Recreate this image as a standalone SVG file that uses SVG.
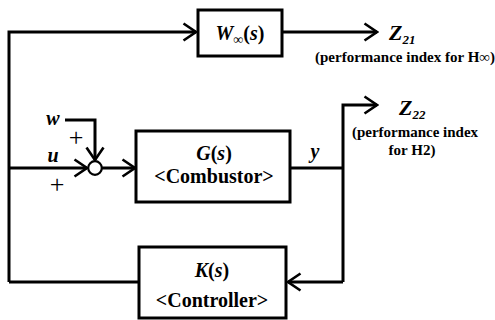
<svg xmlns="http://www.w3.org/2000/svg" width="495" height="320" viewBox="0 0 495 320">
<defs>
<marker id="arr" viewBox="0 0 16 20" refX="14" refY="10" markerWidth="16" markerHeight="20" markerUnits="userSpaceOnUse" orient="auto">
<path d="M1.5,1.5 L14,10 L1.5,18.5" fill="none" stroke="#000" stroke-width="2.6"/>
</marker>
</defs>
<style>
.box{fill:#fff;stroke:#000;stroke-width:3}
.ln{fill:none;stroke:#000;stroke-width:3}
.t{font-family:'Liberation Serif','Times New Roman','DejaVu Serif',serif;font-weight:bold;fill:#000}
.big{font-size:20px}
.it{font-style:italic}
.note{font-size:15px}
.pl{font-family:'Liberation Serif','DejaVu Serif',serif;font-size:26px;font-weight:normal;fill:#000}
</style>
<rect width="495" height="320" fill="#fff"/>
<g id="connectors">
<polyline class="ln" points="9,282 9,32 196,32" marker-end="url(#arr)"/>
<line class="ln" x1="282" y1="32" x2="377" y2="32" marker-end="url(#arr)"/>
<polyline class="ln" points="290,168 343,168"/>
<polyline class="ln" points="343,282 343,105 377,105" marker-end="url(#arr)"/>
<polyline class="ln" points="343,282 288,282" marker-end="url(#arr)"/>
<line class="ln" x1="139" y1="282" x2="9" y2="282"/>
<polyline class="ln" points="65,120 95,120 95,160" marker-end="url(#arr)"/>
<line class="ln" x1="9" y1="168" x2="87" y2="168" marker-end="url(#arr)"/>
<line class="ln" x1="102" y1="168" x2="135" y2="168" marker-end="url(#arr)"/>
</g>
<g id="sum">
<circle cx="95" cy="168" r="6.8" fill="#fff" stroke="#000" stroke-width="2.2"/>
<text x="53" y="125" class="t big it" text-anchor="middle">w</text>
<text x="53" y="162" class="t big it" text-anchor="middle">u</text>
<text x="76" y="146" class="pl" text-anchor="middle">+</text>
<text x="57" y="193" class="pl" text-anchor="middle">+</text>
</g>
<g id="W">
<rect class="box" x="198" y="10" width="84" height="46"/>
<text x="240" y="40" class="t big" text-anchor="middle"><tspan class="it">W</tspan><tspan class="it" font-size="14" dy="4">∞</tspan><tspan dy="-4">(</tspan><tspan class="it">s</tspan>)</text>
</g>
<g id="G">
<rect class="box" x="136" y="131" width="154" height="71"/>
<text x="214" y="160" class="t big" text-anchor="middle"><tspan class="it">G</tspan>(<tspan class="it">s</tspan>)</text>
<text x="214" y="183" class="t big" text-anchor="middle">&lt;Combustor&gt;</text>
</g>
<g id="K">
<rect class="box" x="139" y="247" width="147" height="71"/>
<text x="212" y="277" class="t big" text-anchor="middle"><tspan class="it">K</tspan>(<tspan class="it">s</tspan>)</text>
<text x="212" y="307" class="t big" text-anchor="middle">&lt;Controller&gt;</text>
</g>
<g id="labels">
<text x="389" y="40" font-size="22" class="t it">Z<tspan font-size="13" dy="4">21</tspan></text>
<text x="495" y="62" class="t note" text-anchor="end">(performance index for H∞)</text>
<text x="399" y="115" font-size="22" class="t it">Z<tspan font-size="13" dy="4">22</tspan></text>
<text x="415" y="137" class="t note" text-anchor="middle">(performance index</text>
<text x="412" y="155" class="t note" text-anchor="middle">for H2)</text>
<text x="315" y="158" class="t big it" text-anchor="middle">y</text>
</g>
</svg>
